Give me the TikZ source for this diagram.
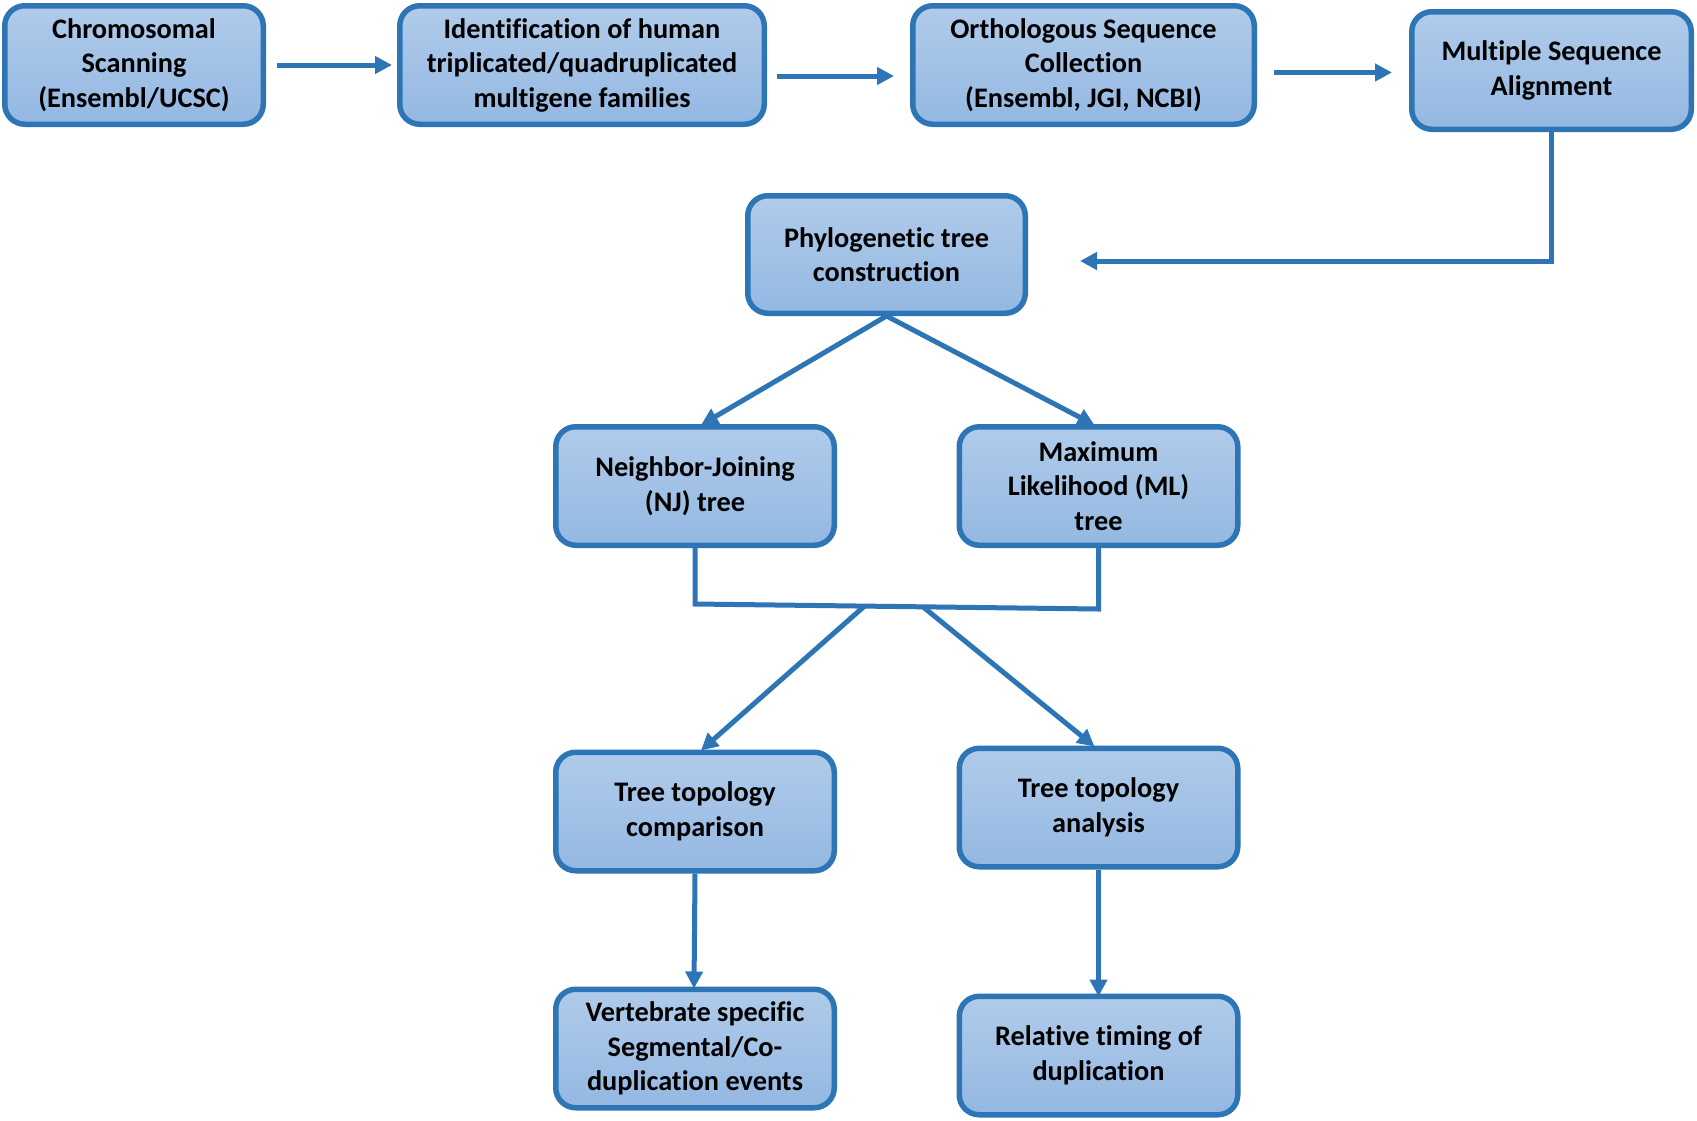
\documentclass[tikz,border=0pt]{standalone}
\usepackage{fontspec}
\setmainfont[Ligatures=NoCommon]{Carlito}
\usetikzlibrary{arrows.meta,calc}
\definecolor{boxtop}{HTML}{B0CBEA}
\definecolor{boxbot}{HTML}{94B8E2}
\definecolor{boxline}{HTML}{2E75B6}
\begin{document}
\begin{tikzpicture}[x=1pt,y=-1pt,
  flowbox/.style={rectangle, rounded corners=20pt, draw=boxline, line width=5.5pt,
    top color=boxtop, bottom color=boxbot, align=center, inner sep=0pt,
    font=\fontsize{28.3}{34.5}\selectfont\bfseries,
    minimum width=#1, minimum height=118.5pt},
  flowbox/.default=278.5pt,
  arr/.style={draw=boxline, line width=5pt,
    -{Triangle[length=17pt,width=17pt]}},
  link/.style={draw=boxline, line width=5pt}]
\useasboundingbox (0,0) rectangle (1697,1120);

% top row
\node[flowbox=258.5pt] (scan) at (134,65) {Chromosomal\\Scanning\\(Ensembl/UCSC)};
\node[flowbox=364.5pt] (ident) at (582,65) {Identification of human\\triplicated/quadruplicated\\multigene families};
\node[flowbox=341.5pt] (ortho) at (1083.5,65) {Orthologous Sequence\\Collection\\(Ensembl, JGI, NCBI)};
\node[flowbox=279.5pt, minimum height=117.5pt] (msa) at (1551.5,70.5) {Multiple Sequence\\Alignment};

% tree construction
\node[flowbox=277.5pt, minimum height=117.5pt] (phylo) at (886.5,254.5) {Phylogenetic tree\\construction};
\node[flowbox] (nj) at (695,486) {Neighbor-Joining\\(NJ) tree};
\node[flowbox] (ml) at (1098.5,486) {Maximum\\Likelihood (ML)\\tree};

% analyses
\node[flowbox] (comp) at (695,811.5) {Tree topology\\comparison};
\node[flowbox] (anal) at (1098.5,807.5) {Tree topology\\analysis};
\node[flowbox] (vert) at (695,1048.5) {Vertebrate specific\\Segmental/Co-\\duplication events};
\node[flowbox] (timing) at (1098.5,1055.5) {Relative timing of\\duplication};

% top row arrows
\draw[arr, shorten <=11pt, shorten >=5pt] (scan.east) -- (ident.west);
\draw[arr, shorten <=10pt, shorten >=16pt] ([yshift=-11]ident.east) -- ([yshift=-11]ortho.west);
\draw[arr, shorten <=17pt, shorten >=17pt] ([yshift=-7.5]ortho.east) -- ([yshift=-2]msa.west);

% alignment back to tree construction
\draw[arr] (msa.south) |- ([xshift=52,yshift=-6.5]phylo.east);

% split into the two tree methods
\draw[arr] (phylo.south) -- ([xshift=6,yshift=-1]nj.north);
\draw[arr] (phylo.south) -- ([xshift=-4,yshift=-1]ml.north);

% merge bracket
\coordinate (jl) at ([yshift=-56]nj.south);
\coordinate (jr) at ([yshift=-61]ml.south);
\draw[link, line join=miter] (nj.south) -- (jl) -- (jr) -- (ml.south);
\draw[arr] ($(jl)!0.42!(jr)$) -- ([xshift=6,yshift=-1]comp.north);
\draw[arr] ($(jl)!0.565!(jr)$) -- ([xshift=-4,yshift=-1]anal.north);

% outcomes
\draw[arr] (comp.south) -- ([xshift=-1,yshift=-2]vert.north);
\draw[arr] (anal.south) -- ([yshift=-3]timing.north);
\end{tikzpicture}
\end{document}
